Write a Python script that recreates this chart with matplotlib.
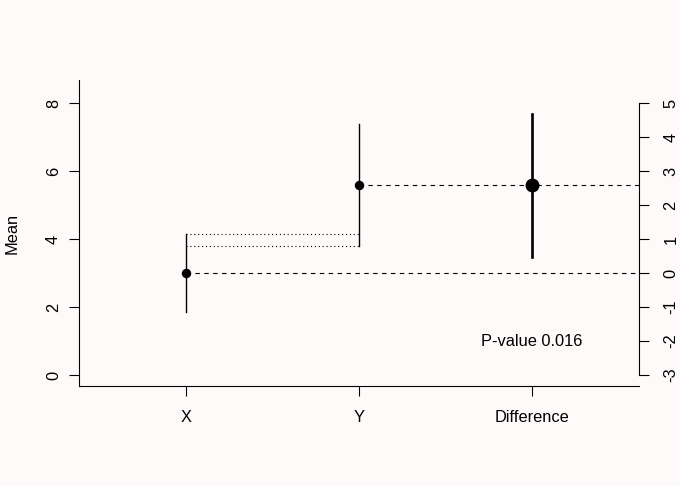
import matplotlib
matplotlib.use("Agg")
import matplotlib.pyplot as plt

# ---- data ----
groups = ["X", "Y", "Difference"]
means = [3.0, 5.6]
ci_low = [1.86, 3.80]
ci_high = [4.15, 7.38]
diff_mean = 2.6
diff_low = 0.48
diff_high = 4.68
left_ticks = [0, 2, 4, 6, 8]
right_ticks = [-3, -2, -1, 0, 1, 2, 3, 4, 5]
p_text = "P-value 0.016"

plt.rcParams['font.family'] = ['Liberation Sans', 'DejaVu Sans']
bg = "#FFFAFA"
W, H = 680, 486
fig = plt.figure(figsize=(W / 100, H / 100), dpi=100, facecolor=bg)
ax = fig.add_axes([79 / W, (H - 386) / H, (639 - 79) / W, (386 - 80) / H])
ax.set_facecolor(bg)
ax.set_xlim(0.38, 3.62)
ylo, yhi = -0.32, 8.68
ax.set_ylim(ylo, yhi)

fs = 11.8
lw_ax = 0.8

xs = [1, 2]
# dashed reference lines
for x0, m in zip(xs, means):
    ax.plot([x0, 3.62], [m, m], color="black", lw=0.8, ls=(0, (4, 4)), zorder=2)
# dotted lines
ax.plot([1, 2], [ci_high[0], ci_high[0]], color="black", lw=0.8, ls=(0, (1, 2.5)), zorder=2)
ax.plot([1, 2], [ci_low[1], ci_low[1]], color="black", lw=0.8, ls=(0, (1, 2.5)), zorder=2)
# CIs and means
for x0, m, lo, hi in zip(xs, means, ci_low, ci_high):
    ax.plot([x0, x0], [lo, hi], color="black", lw=1.0, zorder=3)
    ax.plot([x0], [m], "o", color="black", ms=5.8, zorder=4)

ax.set_xticks([1, 2, 3])
ax.set_xticklabels(groups, fontsize=fs)
ax.set_yticks(left_ticks)
ax.set_yticklabels([str(t) for t in left_ticks], fontsize=fs, rotation=90, va="center")
ax.tick_params(axis="x", length=7, width=lw_ax, pad=10.5)
ax.tick_params(axis="y", length=7, width=lw_ax, pad=6)
for s in ["top", "right"]:
    ax.spines[s].set_visible(False)
for s in ["left", "bottom"]:
    ax.spines[s].set_linewidth(lw_ax)

# right axis for difference
ax2 = ax.twinx()
ax2.set_ylim(ylo - 3, yhi - 3)
ax2.plot([3, 3], [diff_low, diff_high], color="black", lw=1.9, zorder=3)
ax2.plot([3], [diff_mean], "o", color="black", ms=9, zorder=4)
ax2.set_yticks(right_ticks)
ax2.set_yticklabels([str(t) for t in right_ticks], fontsize=fs, rotation=90, va="center")
ax2.tick_params(axis="y", length=7, width=lw_ax, pad=10.5)
for s in ["top", "left", "bottom"]:
    ax2.spines[s].set_visible(False)
ax2.spines["right"].set_bounds(-3, 5)
ax2.spines["right"].set_linewidth(lw_ax)

ax.text(3, 1.0, p_text, ha="center", va="center", fontsize=fs)

fig.text(12 / W, (H - 233) / H, "Mean", rotation=90, ha="center", va="center", fontsize=fs)

fig.savefig("out.png", dpi=100, facecolor=bg)
